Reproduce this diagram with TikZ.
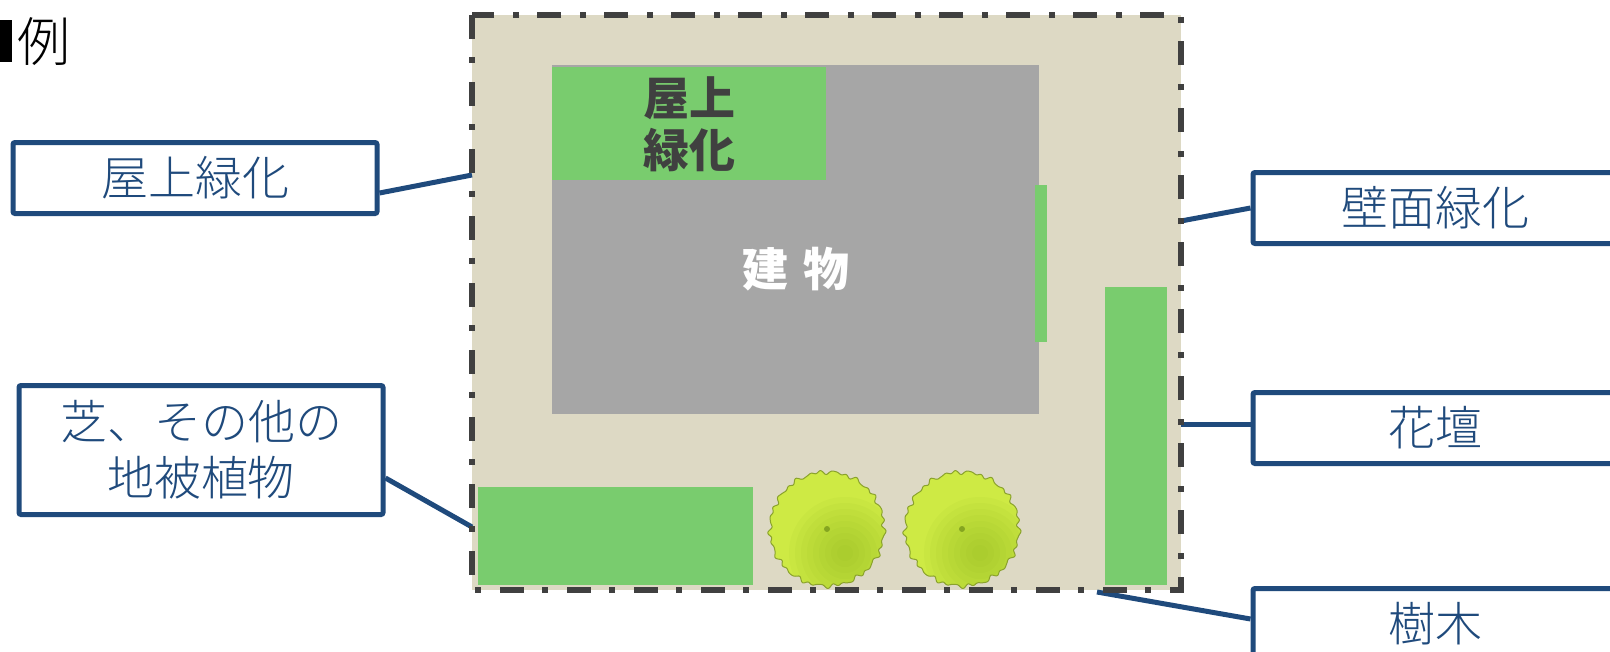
\documentclass[tikz,border=0pt]{standalone}
\usepackage{fontspec}
\newfontfamily\jp{Noto Sans CJK JP}
\newfontfamily\jplight{Noto Sans CJK JP Light}
\usetikzlibrary{positioning}

\definecolor{sitebg}{RGB}{221,217,196}
\definecolor{plant}{RGB}{121,204,110}
\definecolor{bldg}{RGB}{166,166,166}
\definecolor{inkgray}{RGB}{64,64,64}
\definecolor{navy}{RGB}{31,74,124}
\definecolor{leaf}{RGB}{206,234,68}
\definecolor{leafdark}{RGB}{140,180,30}
\definecolor{leafedge}{RGB}{138,162,44}

\tikzset{
  callout/.style={draw=navy, line width=5pt, rounded corners=2pt, fill=white,
    text=navy, minimum width=364pt, minimum height=71pt, inner sep=0pt,
    align=center, font=\jplight\fontsize{47}{56}\selectfont},
  leader/.style={navy, line width=5pt},
  siteline/.style={inkgray, line width=6pt,
    dash pattern=on 24pt off 18pt on 6pt off 19pt},
}

\begin{document}
\begin{tikzpicture}[x=1pt, y=-1pt, node distance=220pt, on grid]
\useasboundingbox (0,0) rectangle (1610,651);
\clip (0,0) rectangle (1610,651);

\fill (0,20) rectangle (12,62);
\node[anchor=base west, inner sep=0pt, font=\jplight\fontsize{53}{53}\selectfont] (title) at (17,61) {例};

% site and planted areas
\fill[sitebg] (472,15) rectangle (1181,590);
\fill[bldg] (552,65) rectangle (1039,414);
\fill[plant] (552,67) rectangle (826,180);
\fill[plant] (1035,185) rectangle (1047,342);
\fill[plant] (1105,287) rectangle (1167,585);
\fill[plant] (478,487) rectangle (753,585);

\node[text=inkgray, align=center, inner sep=0pt,
  font=\jp\bfseries\fontsize{46}{52}\selectfont] (roof) at (689,124) {屋上\\緑化};
\node[text=white, inner sep=0pt,
  font=\jp\bfseries\fontsize{46}{52}\selectfont] (bldg) at (796,269) {建\hspace{16pt}物};

% trees
\foreach \cx in {827,962}{
  \begin{scope}[shift={(\cx,529)}]
    \path[fill=leaf, draw=leafedge, line width=1pt,
      path picture={
        \foreach \r in {8,14,...,56}
          \fill[leafdark, opacity=0.07] (18,24) circle (\r);
      }]
      plot[smooth cycle, domain=0:359, samples=360]
      (\x:{57+1.2*sin(29*\x)+0.9*sin(17*\x+20)+0.6*sin(41*\x+70)});
    \fill[leafdark!80!black, opacity=0.7] (0,0) circle (3);
  \end{scope}
}

% leader ends on the site boundary
\coordinate (roofpt) at (472,175);
\coordinate (lawnpt) at (472,527);
\coordinate (wallpt) at (1181,221);
\coordinate (bedpt) at (1181,424);
\coordinate (treept) at (1097,592);

\node[callout] (roofL) at (195,178) {屋上緑化};
\node[callout, minimum height=129pt] (lawnL) at (201,450) {芝、その他の\\地被植物};
\node[callout] (wallL) at (1435,208) {壁面緑化};
\node[callout, below=of wallL] (bedL) {花壇};
\node[callout, below=196pt of bedL] (treeL) {樹木};

\draw[leader] ([yshift=-15pt]roofL.east) -- (roofpt);
\draw[leader] ([yshift=-28pt]lawnL.east) -- (lawnpt);
\draw[leader] (wallL.west) -- (wallpt);
\draw[leader] ([yshift=4pt]bedL.west) -- (bedpt);
\draw[leader] ([yshift=5pt]treeL.west) -- (treept);

\draw[siteline] (472,15) rectangle (1181,590);
\end{tikzpicture}
\end{document}
